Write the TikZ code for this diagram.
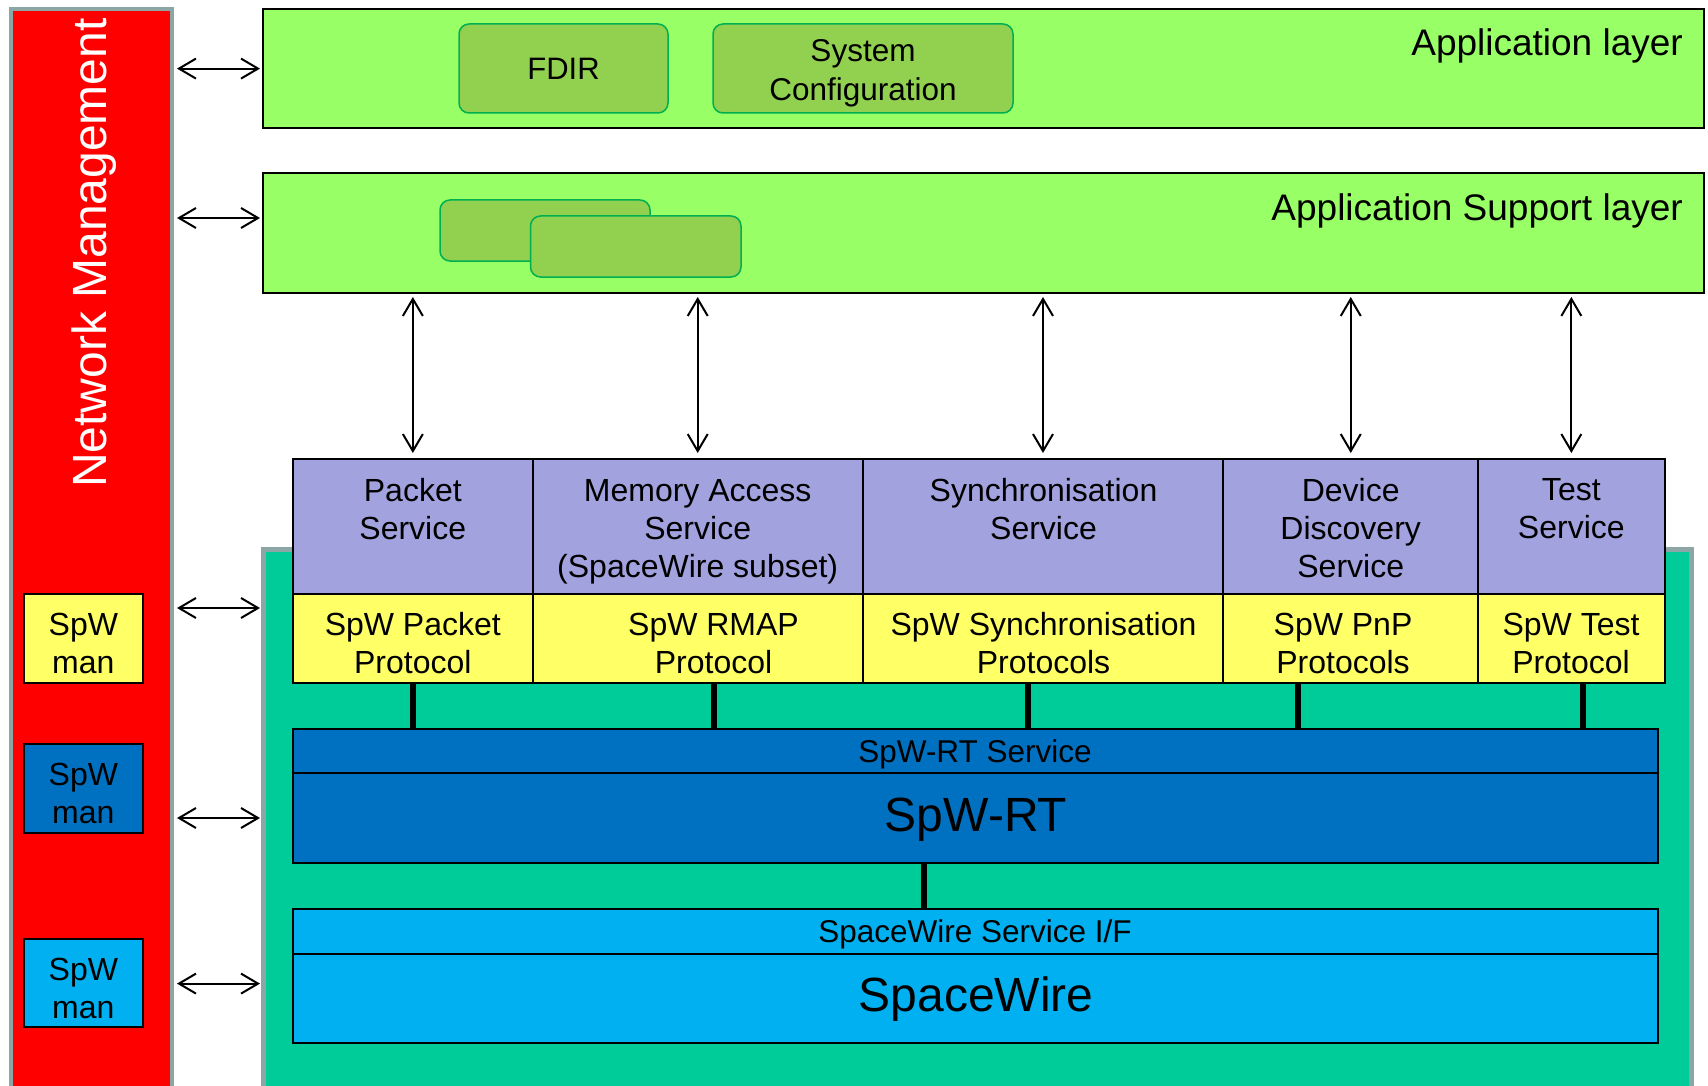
\documentclass[tikz,border=0pt]{standalone}
\usepackage{fontspec}
\setmainfont{Liberation Sans}
\usetikzlibrary{arrows.meta}
\definecolor{nmred}{RGB}{255,0,0}
\definecolor{lgreen}{RGB}{153,255,102}
\definecolor{mgreen}{RGB}{146,208,80}
\definecolor{bgreen}{RGB}{0,176,80}
\definecolor{lav}{RGB}{162,162,222}
\definecolor{yel}{RGB}{255,255,102}
\definecolor{tealbg}{RGB}{0,204,153}
\definecolor{dblue}{RGB}{0,112,192}
\definecolor{lblue}{RGB}{0,176,240}
\definecolor{gborder}{RGB}{140,165,165}
\tikzset{
  blk/.style={draw=black, line width=2pt, anchor=north west, inner sep=0pt, outer sep=0pt},
  innerbox/.style={draw=bgreen, fill=mgreen, line width=1.5pt, rounded corners=10pt, anchor=north west, inner sep=0pt, outer sep=0pt},
  biarrow/.style={line width=2pt, {Straight Barb[length=17pt,width=20pt]}-{Straight Barb[length=17pt,width=20pt]}},
  link/.style={line width=6pt},
  txt/.style={inner sep=0pt, align=center, font=\fontsize{32}{38}\selectfont},
  bigtxt/.style={inner sep=0pt, align=center, font=\fontsize{48}{56}\selectfont},
  midtxt/.style={inner sep=0pt, align=center, font=\fontsize{31.5}{36}\selectfont},
  laytxt/.style={inner sep=0pt, anchor=east, font=\fontsize{37}{44}\selectfont},
}
\begin{document}
\begin{tikzpicture}[x=1pt,y=-1pt]
\useasboundingbox (0,0) rectangle (1708,1086);
% Network management bar
\node[blk, draw=gborder, line width=4pt, fill=nmred, minimum width=161pt, minimum height=1095pt] (nm) at (11,9) {};
\node[inner sep=0pt, rotate=90, text=white, font=\fontsize{48}{56}\selectfont] (nmtext) at (94,253) {Network Management};
% SpW man boxes
\node[blk, fill=yel, minimum width=118.7pt, minimum height=89.3pt] (man1) at (24,593.7) {};
\node[txt] (man1t) at ([yshift=-5pt]man1.center) {SpW\\man};
\node[blk, fill=dblue, minimum width=118.7pt, minimum height=89.3pt] (man2) at (24,744) {};
\node[txt] (man2t) at ([yshift=-5pt]man2.center) {SpW\\man};
\node[blk, fill=lblue, minimum width=118.7pt, minimum height=88.2pt] (man3) at (24,939) {};
\node[txt] (man3t) at ([yshift=-5pt]man3.center) {SpW\\man};
% Application layer
\node[blk, fill=lgreen, minimum width=1441.2pt, minimum height=119.8pt] (app) at (262.5,8.7) {};
\node[laytxt] (appt) at (1683,45.5) {Application layer};
\node[innerbox, minimum width=209pt, minimum height=89pt] (fdir) at (459,24) {};
\node[txt, font=\fontsize{31}{38}\selectfont] (fdirt) at (fdir.center) {FDIR};
\node[innerbox, minimum width=300pt, minimum height=89pt] (sysc) at (713,24) {};
\node[txt, font=\fontsize{31.5}{39}\selectfont] (syst) at (863,73) {System\\Configuration};
% Application support layer
\node[blk, fill=lgreen, minimum width=1441.2pt, minimum height=120pt] (asl) at (262.5,173) {};
\node[laytxt] (aslt) at (1683,211) {Application Support layer};
\node[innerbox, minimum width=210pt, minimum height=61pt] (sup1) at (440,200) {};
\node[innerbox, minimum width=210.5pt, minimum height=61pt] (sup2) at (530.5,216) {};
% teal background
\node[blk, draw=gborder, line width=5pt, fill=tealbg, minimum width=1428pt, minimum height=560pt] (teal) at (263.5,549) {};
% service cells
\node[blk, fill=lav, minimum width=239.7pt, minimum height=135.1pt] (sPacket) at (293,458.6) {};
\node[blk, fill=lav, minimum width=330pt, minimum height=135.1pt] (sMem) at (532.7,458.6) {};
\node[blk, fill=lav, minimum width=360.6pt, minimum height=135.1pt] (sSync) at (862.7,458.6) {};
\node[blk, fill=lav, minimum width=254.9pt, minimum height=135.1pt] (sDev) at (1223.3,458.6) {};
\node[blk, fill=lav, minimum width=186.3pt, minimum height=135.1pt] (sTest) at (1478.2,458.6) {};
\node[txt] (tPacket) at (412.8,509) {Packet\\Service};
\node[txt] (tMem) at (697.7,531.5) {Memory Access\\Service\\(SpaceWire subset)};
\node[txt] (tSync) at (1043.5,509) {Synchronisation\\Service};
\node[txt] (tDev) at (1350.7,528) {Device\\Discovery\\Service};
\node[txt] (tTest) at (1571.3,509) {Test\\Service};
% protocol cells
\node[blk, fill=yel, minimum width=239.7pt, minimum height=89.3pt] (pPacket) at (293,593.7) {};
\node[blk, fill=yel, minimum width=330pt, minimum height=89.3pt] (pRmap) at (532.7,593.7) {};
\node[blk, fill=yel, minimum width=360.6pt, minimum height=89.3pt] (pSync) at (862.7,593.7) {};
\node[blk, fill=yel, minimum width=254.9pt, minimum height=89.3pt] (pPnp) at (1223.3,593.7) {};
\node[blk, fill=yel, minimum width=186.3pt, minimum height=89.3pt] (pTest) at (1478.2,593.7) {};
\node[txt] (tpPacket) at (412.8,643.5) {SpW Packet\\Protocol};
\node[txt] (tpRmap) at (713.5,643.5) {SpW RMAP\\Protocol};
\node[txt] (tpSync) at (1043.5,643.5) {SpW Synchronisation\\Protocols};
\node[txt] (tpPnp) at (1343,643.5) {SpW PnP\\Protocols};
\node[txt] (tpTest) at (1571,643.5) {SpW Test\\Protocol};
% SpW-RT
\node[blk, fill=dblue, minimum width=1365pt, minimum height=44.7pt] (rtH) at (293,728.7) {};
\node[blk, fill=dblue, minimum width=1365pt, minimum height=89.3pt] (rtB) at (293,773.4) {};
\node[midtxt] (rtHt) at (975,754.6) {SpW-RT Service};
\node[bigtxt] (rtBt) at (976,819.5) {SpW-RT};
% SpaceWire
\node[blk, fill=lblue, minimum width=1365pt, minimum height=45.7pt] (swH) at (293,908.5) {};
\node[blk, fill=lblue, minimum width=1365pt, minimum height=88.3pt] (swB) at (293,954.2) {};
\node[midtxt] (swHt) at (975,934.4) {SpaceWire Service I/F};
\node[bigtxt] (swBt) at (976,999.5) {SpaceWire};
% thick links
\draw[link] (pPacket.south) -- (pPacket.south |- rtH.north);
\draw[link] ([xshift=15.8pt]pRmap.south) -- ([xshift=15.8pt]pRmap.south |- rtH.north);
\draw[link] ([xshift=-14.7pt]pSync.south) -- ([xshift=-14.7pt]pSync.south |- rtH.north);
\draw[link] ([xshift=-52.3pt]pPnp.south) -- ([xshift=-52.3pt]pPnp.south |- rtH.north);
\draw[link] ([xshift=11.5pt]pTest.south) -- ([xshift=11.5pt]pTest.south |- rtH.north);
\draw[link] ([xshift=-51.8pt]rtB.south) -- ([xshift=-51.8pt]rtB.south |- swH.north);
% vertical arrows
\foreach \c in {sPacket,sMem,sSync,sDev,sTest}{
  \draw[biarrow] ([yshift=-4pt]asl.south -| \c.north) -- ([yshift=5.6pt]\c.north);
}
% left arrows
\coordinate (y1) at (0,68.6);
\coordinate (y2) at (0,218);
\coordinate (y3) at (0,608);
\coordinate (y4) at (0,818);
\coordinate (y5) at (0,983.6);
\draw[biarrow] ([xshift=5pt]nm.east |- y1) -- ([xshift=-2.5pt]app.west |- y1);
\draw[biarrow] ([xshift=5pt]nm.east |- y2) -- ([xshift=-2.5pt]asl.west |- y2);
\draw[biarrow] ([xshift=5pt]nm.east |- y3) -- ([xshift=-3.5pt]teal.west |- y3);
\draw[biarrow] ([xshift=5pt]nm.east |- y4) -- ([xshift=-3.5pt]teal.west |- y4);
\draw[biarrow] ([xshift=5pt]nm.east |- y5) -- ([xshift=-3.5pt]teal.west |- y5);
\end{tikzpicture}
\end{document}
